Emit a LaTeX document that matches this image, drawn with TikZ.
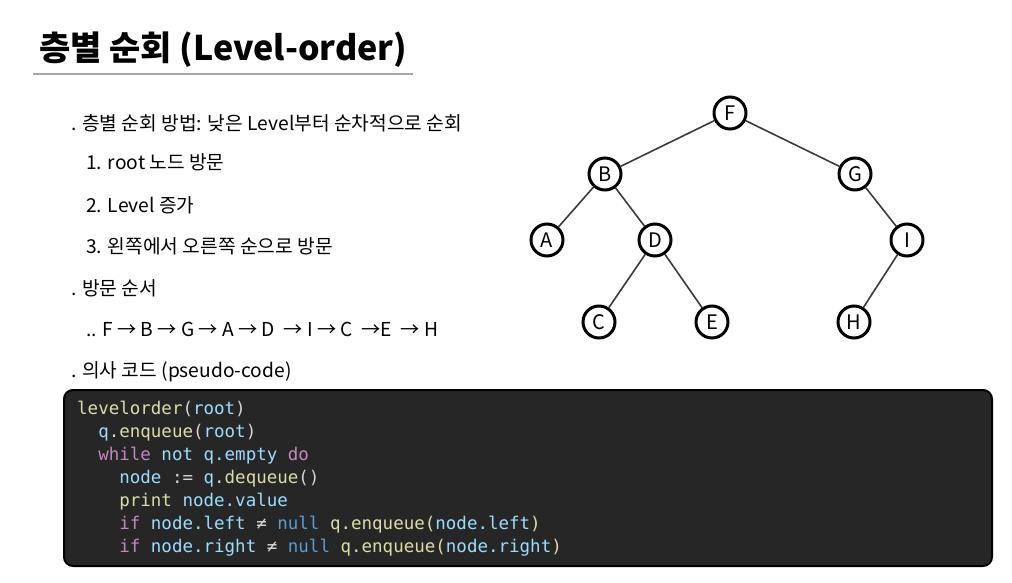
\documentclass[tikz,border=0pt]{standalone}
\usepackage{fontspec}
\setmainfont{Noto Sans CJK KR}
\newfontfamily\codefont{DejaVu Sans Mono}
\definecolor{cbg}{HTML}{262626}
\definecolor{cyel}{HTML}{DCDCAA}
\definecolor{cblu}{HTML}{9CDCFE}
\definecolor{cpnk}{HTML}{C586C0}
\definecolor{cnul}{HTML}{569CD6}
\definecolor{cwht}{HTML}{D4D4D4}
\definecolor{edgec}{HTML}{3A3A3A}
\tikzset{
  body/.style={anchor=base west, inner sep=0pt, font=\fontsize{19.2}{22}\selectfont},
  codeln/.style={anchor=base west, inner sep=0pt, font=\codefont\fontsize{17.5}{20}\selectfont, text=cwht},
  tnode/.style={circle, draw=black, line width=3pt, fill=white, minimum size=32pt, inner sep=0pt, font=\fontsize{20}{22}\selectfont},
  tedge/.style={draw=edgec, line width=1.6pt}
}
\newcommand{\Y}[1]{\textcolor{cyel}{#1}}
\newcommand{\B}[1]{\textcolor{cblu}{#1}}
\newcommand{\Pk}[1]{\textcolor{cpnk}{#1}}
\newcommand{\Nl}[1]{\textcolor{cnul}{#1}}
\begin{document}
\begin{tikzpicture}[x=1pt,y=-1pt]
\useasboundingbox (0,0) rectangle (1012,583);
% title
\node[anchor=base west, inner sep=0pt, font=\fontsize{34}{38}\selectfont\bfseries] (title) at (39,61) {층별 순회 (Level-order)};
\draw[gray!70, line width=1.3pt] (33,74) -- (413,74);
% body text
\node[body] (l1) at (71,131) {. 층별 순회 방법: 낮은 Level부터 순차적으로 순회};
\node[body] (l2) at (86,170) {1. root 노드 방문};
\node[body] (l3) at (86,212) {2. Level 증가};
\node[body] (l4) at (86,253) {3. 왼쪽에서 오른쪽 순으로 방문};
\node[body] (l5) at (71,295) {. 방문 순서};
\node[body] (l6) at (86,336) {.. F → B → G → A → D \ → I → C \ →E \ → H};
\node[body] (l7) at (71,377) {. 의사 코드 (pseudo-code)};
% code box
\draw[fill=cbg, draw=black, line width=2pt, rounded corners=9pt] (64,390) rectangle (992,566);
\node[codeln] (c1) at (77,414) {\Y{levelorder}(\B{root})};
\node[codeln] (c2) at (77,437) {\ \ \B{q}.\Y{enqueue}(\B{root})};
\node[codeln] (c3) at (77,460) {\ \ \Pk{while} \B{not q.empty} \Pk{do}};
\node[codeln] (c4) at (77,483) {\ \ \ \ \B{node} := \B{q}.\Y{dequeue}()};
\node[codeln] (c5) at (77,506) {\ \ \ \ \Y{print} \B{node.value}};
\node[codeln] (c6) at (77,529) {\ \ \ \ \Pk{if} \B{node.left} ≠ \Nl{null} \Y{q.enqueue(}\B{node.left}\Y{)}};
\node[codeln] (c7) at (77,552) {\ \ \ \ \Pk{if} \B{node.right} ≠ \Nl{null} \Y{q.enqueue(}\B{node.right}\Y{)}};
% tree
\node[tnode] (F) at (730,113) {F};
\node[tnode] (B) at (605,174) {B};
\node[tnode] (G) at (855,174) {G};
\node[tnode] (A) at (547,240) {A};
\node[tnode] (D) at (655,240) {D};
\node[tnode] (I) at (907,240) {I};
\node[tnode] (C) at (599,322) {C};
\node[tnode] (E) at (712,322) {E};
\node[tnode] (H) at (854,322) {H};
\path[tedge] (F) -- (B);
\path[tedge] (F) -- (G);
\path[tedge] (B) -- (A);
\path[tedge] (B) -- (D);
\path[tedge] (D) -- (C);
\path[tedge] (D) -- (E);
\path[tedge] (G) -- (I);
\path[tedge] (I) -- (H);
\end{tikzpicture}
\end{document}
